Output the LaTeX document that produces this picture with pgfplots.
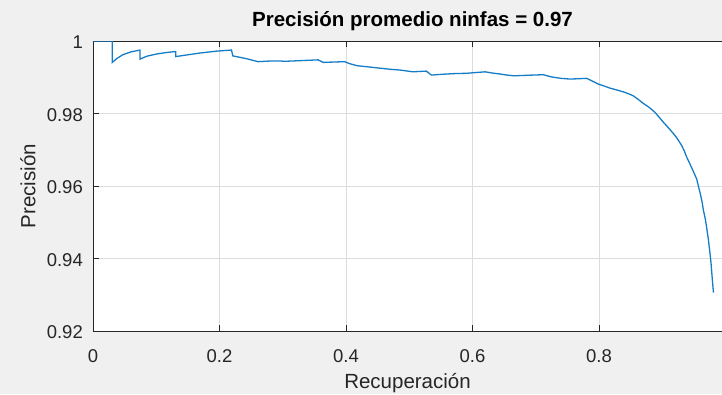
\documentclass[border=0pt]{standalone}
\usepackage{fontspec}
\setmainfont{Liberation Sans}
\usepackage{pgfplots}
\pgfplotsset{compat=1.18}
\definecolor{bgc}{RGB}{240,240,240}
\definecolor{axc}{RGB}{38,38,38}
\definecolor{mblue}{RGB}{20,125,200}
\definecolor{gridc}{RGB}{220,220,220}
\begin{document}
\begin{tikzpicture}
\fill[bgc] (-93pt,-63pt) rectangle (629pt,331pt);
\begin{axis}[
  at={(0pt,0pt)}, anchor=south west,
  scale only axis, width=629pt, height=290pt,
  xmin=0, xmax=0.9945, ymin=0.92, ymax=1,
  axis background/.style={fill=white},
  axis x line*=box, axis y line*=left,
  xtick pos=both,
  axis line style={axc, line width=0.8pt},
  tick align=inside, major tick length=6pt,
  every tick/.style={axc, line width=0.8pt},
  xtick={0,0.2,0.4,0.6,0.8},
  ytick={0.92,0.94,0.96,0.98,1},
  yticklabels={0.92,0.94,0.96,0.98,1},
  xticklabels={0,0.2,0.4,0.6,0.8},
  grid=major,
  major grid style={gridc, line width=0.8pt},
  /pgf/number format/assume math mode=true,
  xticklabel style={font=\fontsize{18.5}{20}\selectfont, text=axc, anchor=base, yshift=-31pt},
  yticklabel style={font=\fontsize{18.5}{20}\selectfont, text=axc, anchor=east, inner sep=0pt, xshift=-10pt, yshift=-1.5pt},
  xlabel={Recuperación},
  ylabel={Precisión},
  title={Precisión promedio ninfas = 0.97},
  xlabel style={font=\fontsize{20.5}{22}\selectfont, text=axc, at={(axis description cs:0.5,0)}, anchor=base, yshift=-57pt},
  ylabel style={font=\fontsize{20.5}{22}\selectfont, text=axc, at={(axis description cs:-0.1033,0.5)}, anchor=center, rotate=0},
  title style={font=\bfseries\fontsize{20.5}{22}\selectfont, text=black, at={(axis description cs:0.508,1)}, anchor=base, yshift=9pt},
]
\addplot[mblue, line width=1.3pt, no markers] coordinates {
(0,1) (0.0305,1) (0.0305,0.9941) (0.038,0.9952) (0.047,0.9962) (0.060,0.9970) (0.0743,0.9975)
(0.0743,0.9950) (0.085,0.9958) (0.100,0.9964) (0.115,0.9968) (0.1307,0.9971)
(0.1307,0.9957) (0.150,0.9962) (0.170,0.9967) (0.195,0.9972) (0.219,0.9975)
(0.221,0.9959) (0.235,0.9954) (0.2456,0.9950) (0.252,0.9947) (0.261,0.9943) (0.2825,0.9945) (0.2957,0.9945)
(0.303,0.9944) (0.330,0.9946) (0.356,0.9948) (0.364,0.9941) (0.380,0.9942) (0.398,0.9943)
(0.405,0.9938) (0.417,0.9932) (0.433,0.9929) (0.454,0.9925) (0.470,0.9922) (0.485,0.9920)
(0.506,0.9915) (0.527,0.9917) (0.535,0.9906) (0.550,0.9908) (0.570,0.9910) (0.591,0.9911)
(0.605,0.9913) (0.620,0.9915) (0.630,0.9912) (0.643,0.9909) (0.655,0.9906) (0.665,0.9904)
(0.680,0.9905) (0.695,0.9906) (0.712,0.9907) (0.720,0.9903) (0.728,0.9900) (0.740,0.9897)
(0.754,0.9895) (0.768,0.9896) (0.7805,0.9897) (0.790,0.9889) (0.799,0.9881) (0.808,0.9876)
(0.8174,0.9870) (0.828,0.9865) (0.838,0.9860) (0.846,0.9855) (0.854,0.9849) (0.862,0.9839)
(0.870,0.9828) (0.880,0.9816) (0.8886,0.9803) (0.895,0.9790) (0.9017,0.9776) (0.907,0.9766)
(0.912,0.9756) (0.917,0.9746) (0.9225,0.9734) (0.927,0.9722) (0.9307,0.9712) (0.935,0.9696)
(0.9386,0.9680) (0.943,0.9664) (0.9466,0.9650) (0.950,0.9637) (0.9545,0.9619) (0.957,0.9601)
(0.960,0.9580) (0.963,0.9556) (0.965,0.9534) (0.968,0.9510) (0.970,0.9488) (0.973,0.9452)
(0.9755,0.9414) (0.977,0.9390) (0.978,0.9368) (0.9795,0.9336) (0.981,0.9306)
};
\end{axis}
\pgfresetboundingbox
\path[use as bounding box] (-93pt,-63pt) rectangle (629pt,331pt);
\end{tikzpicture}
\end{document}
